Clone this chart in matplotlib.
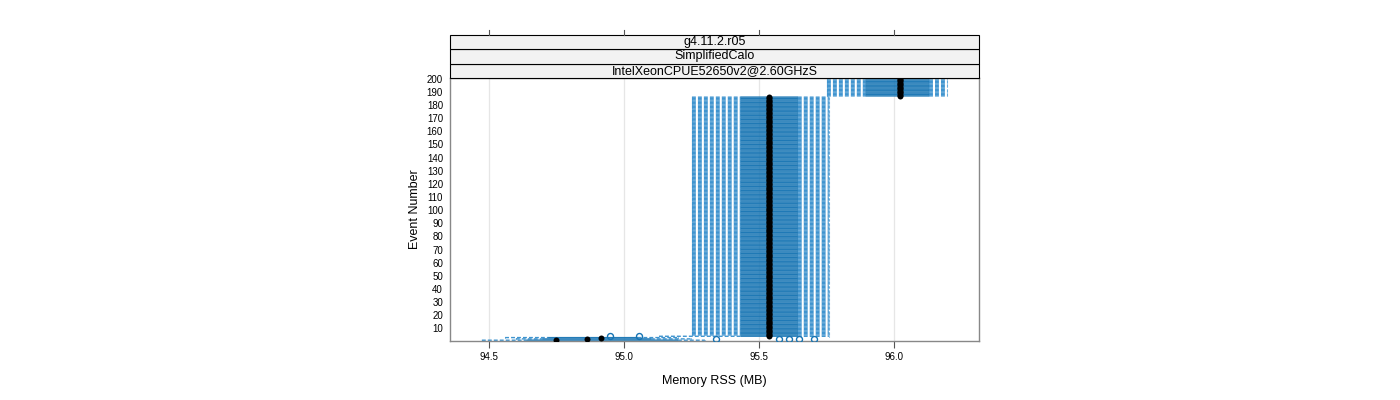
import matplotlib
matplotlib.use("Agg")
import matplotlib.pyplot as plt
from matplotlib.patches import Rectangle

plt.rcParams['font.family'] = ['Liberation Sans', 'DejaVu Sans']

# ---- data ----
strip_labels = ["g4.11.2.r05", "SimplifiedCalo", "IntelXeonCPUE52650v2@2.60GHzS"]
n_events = 200
# groups of consecutive events sharing the same box statistics
grp_start = [1, 2, 3, 4, 5, 187]
grp_end = [1, 2, 3, 4, 186, 200]
grp_lo = [94.474, 94.60, 94.56, 95.13, 95.252, 95.752]
grp_q1 = [94.64, 94.70, 94.72, 95.433, 95.433, 95.896]
grp_med = [94.748, 94.863, 94.915, 95.537, 95.537, 96.022]
grp_q3 = [95.20, 95.10, 95.05, 95.644, 95.644, 96.130]
grp_hi = [95.30, 95.25, 95.20, 95.759, 95.759, 96.196]
out_event = [4, 4, 2, 2, 2, 2, 2]
out_value = [94.95, 95.055, 95.34, 95.575, 95.61, 95.648, 95.705]
x_ticks = [94.5, 95.0, 95.5, 96.0]
x_ticklabels = ["94.5", "95.0", "95.5", "96.0"]
y_ticks = list(range(10, 201, 10))

blue = "#1674b3"
wblue = "#3f94cf"

fig = plt.figure(figsize=(14, 4), dpi=100)
L, R = 450 / 1400, 979 / 1400
B, T = (400 - 341) / 400, (400 - 78) / 400
ax = fig.add_axes([L, B, R - L, T - B])

# expand groups to events
events, lo, q1, med, q3, hi = [], [], [], [], [], []
for s, e, a, b, c, d, f in zip(grp_start, grp_end, grp_lo, grp_q1, grp_med, grp_q3, grp_hi):
    for ev in range(s, e + 1):
        events.append(ev); lo.append(a); q1.append(b); med.append(c); q3.append(d); hi.append(f)

for xv in x_ticks:
    ax.axvline(xv, color="#e6e6e6", lw=0.9, zorder=0)

hb = 0.7
bars = ax.barh(events, [b - a for a, b in zip(q1, q3)], left=q1, height=hb,
               color=blue, edgecolor=blue, linewidth=0.3, zorder=2)
for p in bars:
    p.set_snap(False)
ax.hlines(events, lo, q1, colors=wblue, linestyles=(0, (2.8, 1.5)), lw=1.0, zorder=1, snap=False)
ax.hlines(events, q3, hi, colors=wblue, linestyles=(0, (2.8, 1.5)), lw=1.0, zorder=1, snap=False)
ax.vlines(lo, [e - hb / 2 for e in events], [e + hb / 2 for e in events], colors=wblue, lw=0.75, zorder=1)
ax.vlines(hi, [e - hb / 2 for e in events], [e + hb / 2 for e in events], colors=wblue, lw=0.75, zorder=1)
ax.plot(med, events, "o", color="black", ms=4.3, mew=0, zorder=4)
ax.plot(out_value, out_event, "o", mfc="none", mec=blue, ms=4.3, mew=1.0, zorder=3)

ax.set_xlim(94.356, 96.315)
ax.set_ylim(0.4, 200.6)
ax.set_xticks(x_ticks)
ax.set_xticklabels(x_ticklabels)
ax.set_yticks(y_ticks)
ax.set_yticklabels([str(v) for v in y_ticks])
ax.tick_params(axis="x", length=5, width=0.8, color="#555555", labelsize=7, pad=3)
ax.tick_params(axis="y", length=0, labelsize=7, pad=5)
for sp in ax.spines.values():
    sp.set_color("#888888")
    sp.set_linewidth(1.0)
ax.set_xlabel("Memory RSS (MB)", fontsize=9, labelpad=9)
ax.set_ylabel("Event Number", fontsize=9, labelpad=4)

# strips
strip_h = 14.5 / 400
for i, lab in enumerate(reversed(strip_labels)):
    y0 = T + i * strip_h
    fig.patches.append(Rectangle((L, y0), R - L, strip_h, transform=fig.transFigure,
                                 facecolor="#f2f2f2", edgecolor="black", lw=0.8))
    fig.text((L + R) / 2, y0 + strip_h / 2, lab, ha="center", va="center", fontsize=9)

# top ticks above strips
ytop = T + 3 * strip_h
for xv in x_ticks:
    xf = L + (xv - 94.356) / (96.315 - 94.356) * (R - L)
    fig.add_artist(plt.Line2D([xf, xf], [ytop, ytop + 5 / 400], transform=fig.transFigure,
                              color="#555555", lw=0.8))

fig.savefig("out.png", dpi=100)
